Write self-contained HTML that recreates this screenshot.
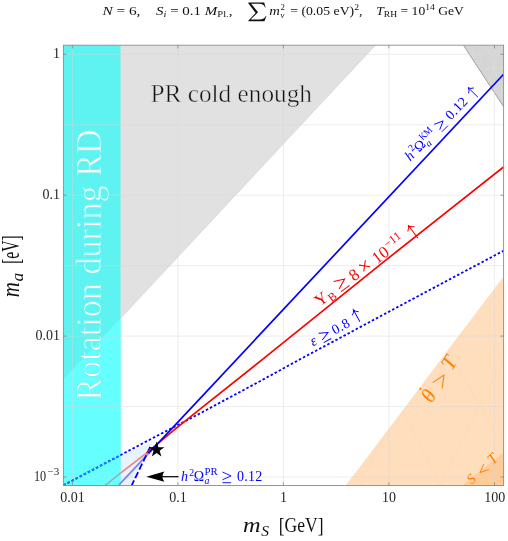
<!DOCTYPE html>
<html>
<head>
<meta charset="utf-8">
<title>Plot</title>
<style>
  html, body { margin: 0; padding: 0; background: #ffffff; }
  body { width: 508px; height: 541px; overflow: hidden; font-family: "Liberation Serif", serif; }
  svg { display: block; will-change: transform; }
  text { font-family: "Liberation Serif", serif; }
  .it { font-style: italic; }
</style>
</head>
<body>
<svg width="508" height="541" viewBox="0 0 508 541">
  <defs>
    <clipPath id="cy"><rect x="63.4" y="45.2" width="57.1" height="440"/></clipPath>
    <clipPath id="tri"><polygon points="463.4,45.2 503.6,45.2 503.6,106.7"/></clipPath>
    <clipPath id="org"><polygon points="345.7,485.4 395.4,420 455.4,340 503.6,276.4 503.6,485.4"/></clipPath>
    <clipPath id="plot"><rect x="63.4" y="45.2" width="440.2" height="440.3"/></clipPath>
  </defs>
  <rect x="0" y="0" width="508" height="541" fill="#ffffff"/>

  <!-- ===== plot contents ===== -->
  <g clip-path="url(#plot)">
    <!-- PR cold enough (gray) -->
    <polygon points="63.4,45.2 375.4,45.2 63.4,379.6" fill="#e1e1e1"/>
    <path d="M375.4 45.2L63.4 379.6" stroke="#d2d2d2" stroke-width="0.7" fill="none"/>
    <!-- top-right gray -->
    <polygon points="463.4,45.2 503.6,45.2 503.6,106.7" fill="#d5d5d5"/>
    <g stroke="#dddddd" stroke-width="0.6" fill="none" clip-path="url(#tri)">
      <path d="M494.5 45V110 M455 54.3H504 M455 68.4H504"/>
      <path d="M470 45L478 68L486 45L494 68L502 45 M478 68L486 90L494 68L502 90 M486 90L494 110L502 90"/>
    </g>
    <path d="M463.4 45.2L503.6 106.7" stroke="#8e8e8e" stroke-width="0.8" fill="none"/>

    <!-- orange regions -->
    <polygon points="345.7,485.4 395.4,420 455.4,340 503.6,276.4 503.6,485.4" fill="#ffdebd"/>
    <polygon points="462,485.4 503.6,452.6 503.6,485.4" fill="#ffcc99"/>

    <g stroke="#ff9a3c" stroke-opacity="0.10" stroke-width="0.7" fill="none" clip-path="url(#org)">
      <path d="M360 485L400 406L440 485L480 406L504 452 M400 406L440 336L480 406 M440 336L480 270L504 310 M480 406L504 360"/>
    </g>
    <!-- light blue wedge -->
    <polygon points="120.5,456 152.2,442 131.5,485.4 120.5,485.4" fill="#e7f3fe"/>

    <!-- cyan band -->
    <rect x="63.4" y="45.2" width="57.1" height="440.2" fill="#5ef3f1"/>
    <polygon points="63.4,379.6 120.5,318.3 120.5,485.4 63.4,485.4" fill="#66ffff"/>

    <!-- gridlines (on top of fills) -->
    <g stroke="#d6d6d6" stroke-opacity="0.55" stroke-width="0.8" fill="none">
      <path d="M72.4 45V486 M177.9 45V486 M283.4 45V486 M388.9 45V486 M494.5 45V486"/>
      <path d="M63 54.3H504 M63 124.75H504 M63 195.2H504 M63 265.65H504 M63 336.1H504 M63 406.55H504 M63 477H504"/>
    </g>

    <!-- faint curves -->
    <path d="M146.5 453.2L120.5 473.2" stroke="#f58080" stroke-width="1.7" fill="none"/>
    <path d="M120.5 473.2L104.6 485.8" stroke="#86b6ac" stroke-width="1.7" fill="none"/>
    <path d="M148.6 453.3L119 484.9" stroke="#8080fa" stroke-width="1.7" fill="none"/>

    <!-- dotted blue -->
    <path d="M63.4 485.3L140 444.8L200 413.4L260 381.2L300 359.3L408 301.5L503.6 250.7" stroke="#0000ff" stroke-width="1.8" stroke-dasharray="2.5 2.1" fill="none"/>
    <path d="M63.4 485.3L140 444.8L200 413.4L260 381.2L300 359.3L408 301.5L503.6 250.7" stroke="#1a80ff" stroke-width="1.8" stroke-dasharray="2.5 2.1" fill="none" clip-path="url(#cy)"/>
    <!-- dashed blue -->
    <path d="M131.2 486.4L150.9 445.6" stroke="#0000ff" stroke-width="1.8" stroke-dasharray="6.6 2.7" fill="none"/>
    <!-- red -->
    <path d="M146.5 453.2L157.7 443.6L175.4 428.9L200 409.2L262.2 359.6L388 258.4L503.6 167" stroke="#ff0000" stroke-width="1.7" fill="none" stroke-linejoin="round"/>
    <!-- blue solid -->
    <path d="M148.6 453.3L503.6 74.3" stroke="#0000ff" stroke-width="1.7" fill="none"/>
  </g>

  <!-- star -->
  <polygon fill="#000000" points="156.6,441.6 158.4,447.3 164.4,447.3 159.6,450.8 161.4,456.4 156.6,452.9 151.8,456.4 153.6,450.8 148.8,447.3 154.8,447.3"/>

  <!-- arrow -->
  <path d="M178.5 476.7H160" stroke="#000" stroke-width="1.2" fill="none"/>
  <path d="M146.3 476.7L164.3 471.6Q160.6 476.7 164.3 481.8Z" fill="#000"/>

  <!-- frame -->
  <rect x="63.4" y="45.2" width="440.2" height="440.3" fill="none" stroke="#8c8c8c" stroke-width="0.9"/>
  <!-- ticks -->
  <g stroke="#777" stroke-width="0.7" fill="none">
    <path d="M72.4 485.5v-3.2 M177.9 485.5v-3.2 M283.4 485.5v-3.2 M388.9 485.5v-3.2 M494.5 485.5v-3.2"/>
    <path d="M72.4 45.2v3.2 M177.9 45.2v3.2 M283.4 45.2v3.2 M388.9 45.2v3.2 M494.5 45.2v3.2"/>
    <path d="M63.4 54.3h3.2 M63.4 195.2h3.2 M63.4 336.1h3.2 M63.4 477h3.2"/>
    <path d="M503.6 54.3h-3.2 M503.6 195.2h-3.2 M503.6 336.1h-3.2 M503.6 477h-3.2"/>
  </g>

  <!-- tick labels -->
  <g font-size="14" fill="#262626">
    <text x="72.4" y="502.3" text-anchor="middle">0.01</text>
    <text x="177.9" y="502.3" text-anchor="middle">0.1</text>
    <text x="283.4" y="502.3" text-anchor="middle">1</text>
    <text x="388.9" y="502.3" text-anchor="middle">10</text>
    <text x="494.8" y="502.3" text-anchor="middle">100</text>
    <text x="60" y="57.9" text-anchor="end">1</text>
    <text x="60" y="198.8" text-anchor="end">0.1</text>
    <text x="60" y="339.7" text-anchor="end">0.01</text>
    <text x="33.9" y="480.7" textLength="12.2" lengthAdjust="spacingAndGlyphs">10</text>
    <text x="47.6" y="475.3" font-size="10" textLength="11.8" lengthAdjust="spacingAndGlyphs">−3</text>
  </g>

  <!-- axis labels -->
  <g fill="#111" font-size="22">
    <text x="243" y="532.2" class="it" textLength="17.6" lengthAdjust="spacingAndGlyphs">m</text>
    <text x="261.3" y="535.8" class="it" font-size="15.5">S</text>
    <text x="278.7" y="532.2" textLength="44.8" lengthAdjust="spacingAndGlyphs">[GeV]</text>
  </g>
  <g fill="#111" font-size="22" transform="translate(19.2,297.3) rotate(-90) scale(1,1.12)">
    <text x="0" y="0" class="it" textLength="15" lengthAdjust="spacingAndGlyphs">m</text>
    <text x="15.8" y="3" class="it" font-size="15.5" textLength="8.6" lengthAdjust="spacingAndGlyphs">a</text>
    <text x="33.3" y="0" textLength="28.7" lengthAdjust="spacingAndGlyphs">[eV]</text>
  </g>

  <!-- title -->
  <g font-size="12.5" fill="#111">
    <text x="102.4" y="14.6" textLength="38" lengthAdjust="spacingAndGlyphs"><tspan class="it">N</tspan> = 6,</text>
    <text x="156" y="14.6" textLength="76.5" lengthAdjust="spacingAndGlyphs"><tspan class="it">S</tspan><tspan class="it" font-size="8.8" dy="2">i</tspan><tspan dy="-2"> = 0.1 </tspan><tspan class="it">M</tspan><tspan font-size="8.8" dy="2">Pl.</tspan><tspan dy="-2">,</tspan></text>
    <path d="M248.3 2.6H264.2L265.6 7.4H265Q263.8 3.9 259.5 3.8H251.2L258 12.2L250.6 19.5H259.5Q264.5 19.4 265.8 16H266.4L264.5 21.3H248.3V20.7L255.6 12.9L248.3 3.2Z" fill="#111"/>
    <text x="269.3" y="14.9" class="it" font-size="13" textLength="10.6" lengthAdjust="spacingAndGlyphs">m</text>
    <text x="280.6" y="17.9" class="it" font-size="8.8">ν</text>
    <text x="280.6" y="10" font-size="8.8">2</text>
    <text x="290.2" y="14.6" textLength="72.3" lengthAdjust="spacingAndGlyphs">= (0.05 eV)<tspan font-size="8.8" dy="-5">2</tspan><tspan dy="5">,</tspan></text>
    <text x="376.3" y="14.6" textLength="87.5" lengthAdjust="spacingAndGlyphs"><tspan class="it">T</tspan><tspan font-size="8.8" dy="2">RH</tspan><tspan dy="-2"> = 10</tspan><tspan font-size="8.8" dy="-5">14</tspan><tspan dy="5"> GeV</tspan></text>
  </g>

  <!-- region labels -->
  <text x="150.5" y="102.3" font-size="26" fill="#111" stroke="#e1e1e1" stroke-width="0.5" textLength="161.5" lengthAdjust="spacingAndGlyphs">PR cold enough</text>
  <text transform="translate(101.3,400.7) rotate(-90)" font-size="35.5" fill="#ffffff" stroke="#61f5f4" stroke-width="0.8" textLength="271.3" lengthAdjust="spacingAndGlyphs">Rotation during RD</text>

  <!-- curve labels -->
  <g transform="translate(410.2,161.6) rotate(-45.5)" font-size="14" fill="#0000ff">
    <text x="0" y="0" class="it">h</text>
    <text x="8.3" y="-5.5" font-size="9.8">2</text>
    <text x="12.8" y="0" textLength="10.3" lengthAdjust="spacingAndGlyphs">Ω</text>
    <text x="23.4" y="3.4" font-size="9.8" class="it">a</text>
    <text x="23.6" y="-5.6" font-size="9.8" textLength="14.6" lengthAdjust="spacingAndGlyphs">KM</text>
    <path d="M43.4 -9l8.7 3.9l-8.7 3.9M43.4 1.7h8.7" stroke="#0000ff" stroke-width="0.9" fill="none"/>
    <text x="57.8" y="0" textLength="25.2" lengthAdjust="spacing">0.12</text>
    <path d="M93.4 3.2V-10.2M89.6 -6.2Q92.7 -7.7 93.4 -10.4Q94.1 -7.7 97.2 -6.2" stroke="#0000ff" stroke-width="0.9" fill="none"/>
  </g>
  <g transform="translate(318.2,308.7) rotate(-37)" font-size="16.8" fill="#ff0000" text-anchor="middle">
    <text x="8.3" y="-0.6">Y</text>
    <text x="18.4" y="2.8" font-size="11.8">B</text>
    <path d="M28.6 -12.4l10.4 4.6l-10.4 4.6M28.6 0.2h10.4" stroke="#ff0000" stroke-width="1.05" fill="none"/>
    <text x="49" y="0">8</text>
    <text x="62.7" y="0.8" font-size="21.5">×</text>
    <text x="82" y="0">10</text>
    <text x="100.6" y="-6.8" font-size="11.8">−11</text>
    <path d="M122.1 3.6V-12.2M117.9 -7.7Q121.3 -9.3 122.1 -12.4Q122.9 -9.3 126.3 -7.7" stroke="#ff0000" stroke-width="1" fill="none"/>
  </g>
  <g transform="translate(313,346.5) rotate(-28.5)" font-size="14" fill="#0000ff">
    <text x="0" y="0" class="it" font-size="15">ε</text>
    <path d="M11.2 -9l8.7 3.9l-8.7 3.9M11.2 1.7h8.7" stroke="#0000ff" stroke-width="0.9" fill="none"/>
    <text x="24.8" y="0" textLength="18.2" lengthAdjust="spacing">0.8</text>
    <path d="M53 0.6V-12.8M49.2 -8.8Q52.3 -10.3 53 -13Q53.7 -10.3 56.8 -8.8" stroke="#0000ff" stroke-width="0.9" fill="none"/>
  </g>
  <g transform="translate(431.8,404) rotate(-58.5)" fill="#ff8000" font-size="21">
    <text x="0" y="0" class="it">θ</text>
    <circle cx="7" cy="-17.8" r="1.05"/>
    <path d="M18.7 -10.3L31 -4.8L18.7 0.7" stroke="#ff8000" stroke-width="1.05" fill="none"/>
    <text x="38" y="0" class="it">T</text>
  </g>
  <g transform="translate(468.9,487.5) rotate(-43)" fill="#ff8000" font-size="14">
    <text x="4" y="0" class="it">S</text>
    <path d="M26.7 -7L18.4 -3.3L26.7 0.4" stroke="#ff8000" stroke-width="0.9" fill="none"/>
    <text x="32.6" y="0" class="it" font-size="15">T</text>
  </g>
  <g transform="translate(181,481)" font-size="14" fill="#0000ff">
    <text x="0" y="0" class="it">h</text>
    <text x="8.3" y="-5.5" font-size="9.8">2</text>
    <text x="12.8" y="0" textLength="10.3" lengthAdjust="spacingAndGlyphs">Ω</text>
    <text x="23.4" y="3.4" font-size="9.8" class="it">a</text>
    <text x="23.6" y="-5.6" font-size="9.8" textLength="13.2" lengthAdjust="spacingAndGlyphs">PR</text>
    <path d="M41.4 -9l8.7 3.9l-8.7 3.9M41.4 1.7h8.7" stroke="#0000ff" stroke-width="0.9" fill="none"/>
    <text x="56" y="0" textLength="25.2" lengthAdjust="spacing">0.12</text>
  </g>
</svg>
</body>
</html>
